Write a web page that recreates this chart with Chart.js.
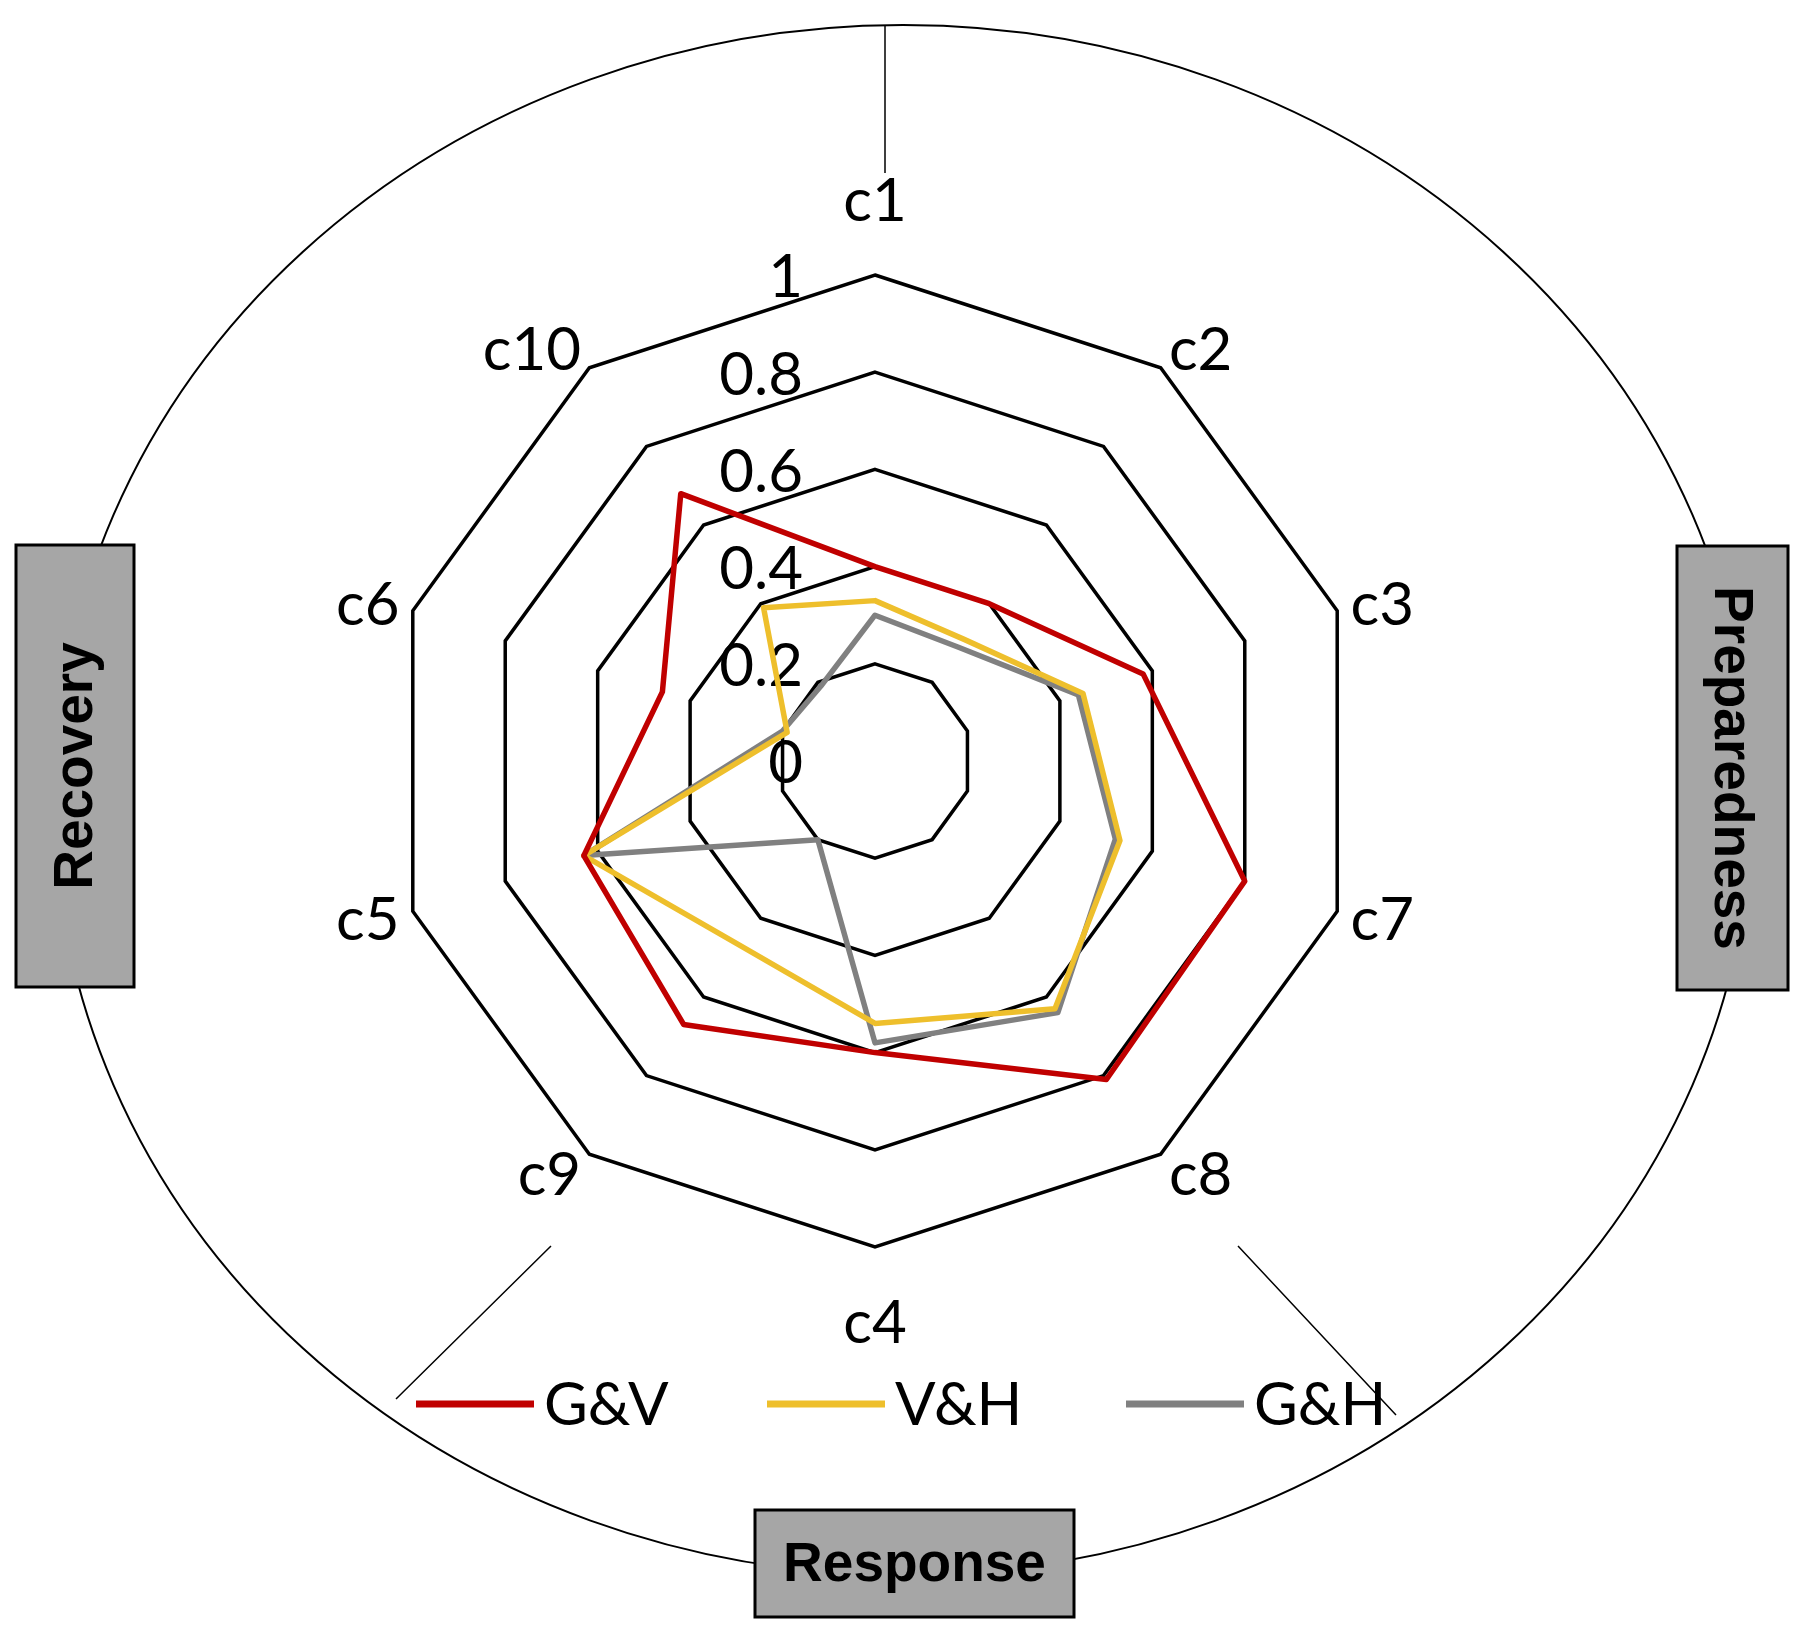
<!DOCTYPE html>
<html lang="en">
<head>
    <meta charset="UTF-8">
    <meta name="viewport" content="width=device-width, initial-scale=1.0">
    <title>Disaster Phase Radar</title>
    <script src="https://cdn.jsdelivr.net/npm/chart.js"></script>
    <style>
        body {
            margin: 0;
            padding: 0;
            background-color: #fff;
        }

        .chart-wrap {
            width: 1801px;
            height: 1635px;
        }
    </style>
</head>
<body>
    <div class="chart-wrap">
        <canvas id="radar-chart" width="1801" height="1635"></canvas>
    </div>

    <script>
        // axes go clockwise from the top
        const axisLabels = ['c1', 'c2', 'c3', 'c7', 'c8', 'c4', 'c9', 'c5', 'c6', 'c10'];
        const gvValues = [0.40, 0.40, 0.58, 0.80, 0.81, 0.60, 0.67, 0.63, 0.46, 0.68];
        const vhValues = [0.33, 0.31, 0.45, 0.53, 0.63, 0.54, 0.47, 0.63, 0.19, 0.39];
        const ghValues = [0.30, 0.29, 0.44, 0.52, 0.64, 0.58, 0.20, 0.63, 0.20, 0.19];
        const seriesNames = ['G&V', 'V&H', 'G&H'];
        const seriesColors = ['#c00000', '#eebf2c', '#808080'];
        const tickValues = [0, 0.2, 0.4, 0.6, 0.8, 1];
        const phaseNames = ['Preparedness', 'Response', 'Recovery'];

        const labelFont = '60px Lato, "Open Sans", sans-serif';
        const boxFont = 'bold 55px "Liberation Sans", Arial, sans-serif';

        function drawBox(ctx, x, y, w, h, text, rotation) {
            ctx.fillStyle = '#a6a6a6';
            ctx.fillRect(x, y, w, h);
            ctx.strokeStyle = '#000';
            ctx.lineWidth = 3;
            ctx.strokeRect(x, y, w, h);
            ctx.save();
            ctx.translate(x + w / 2, y + h / 2);
            ctx.rotate(rotation);
            ctx.font = boxFont;
            ctx.fillStyle = '#000';
            ctx.textAlign = 'center';
            ctx.textBaseline = 'middle';
            ctx.fillText(text, 0, 2);
            ctx.restore();
        }

        const decorPlugin = {
            id: 'decor',
            beforeDraw(chart) {
                const ctx = chart.ctx;
                const s = chart.scales.r;
                const cx = s.xCenter;
                const cy = s.yCenter;
                ctx.save();
                ctx.fillStyle = '#fff';
                ctx.fillRect(0, 0, chart.width, chart.height);

                // outer ellipse and the three phase dividers
                ctx.strokeStyle = '#000';
                ctx.lineWidth = 2;
                ctx.beginPath();
                ctx.ellipse(cx + 28, cy + 39, 849, 775, 0, 0, Math.PI * 2);
                ctx.stroke();

                ctx.lineWidth = 1.5;
                ctx.beginPath();
                ctx.moveTo(cx + 10, cy - 736);
                ctx.lineTo(cx + 10, cy - 588);
                ctx.moveTo(cx - 324, cy + 485);
                ctx.lineTo(cx - 479, cy + 638);
                ctx.moveTo(cx + 363, cy + 485);
                ctx.lineTo(cx + 521, cy + 654);
                ctx.stroke();
                ctx.restore();
            },
            beforeDatasetsDraw(chart) {
                const ctx = chart.ctx;
                const s = chart.scales.r;
                ctx.save();
                ctx.font = labelFont;
                ctx.fillStyle = '#000';

                // value labels left of the c1 axis
                ctx.textAlign = 'right';
                ctx.textBaseline = 'middle';
                tickValues.forEach(function(v) {
                    const d = s.getDistanceFromCenterForValue(v);
                    ctx.fillText(String(v), s.xCenter - 72, s.yCenter - d + 3);
                });

                // category labels
                chart.data.labels.forEach(function(lab, i) {
                    const a = s.getIndexAngle(i);
                    const sn = Math.sin(a);
                    const cs = Math.cos(a);
                    const vertical = Math.abs(sn) < 0.01;
                    const pos = s.getPointPosition(i, s.drawingArea + (vertical ? 45 : 14));
                    ctx.textAlign = vertical ? 'center' : (sn > 0 ? 'left' : 'right');
                    let y = pos.y;
                    if (vertical) {
                        y += (cs > 0 ? -30 : 30) + 2;
                    } else {
                        y += -cs * 10 + 2;
                    }
                    ctx.fillText(lab, pos.x, y);
                });
                ctx.restore();
            },
            afterDraw(chart) {
                const ctx = chart.ctx;
                const s = chart.scales.r;
                const cx = s.xCenter;
                const cy = s.yCenter;
                ctx.save();

                // legend
                const starts = [-459, -108, 251];
                chart.data.datasets.forEach(function(ds, i) {
                    const x0 = cx + starts[i];
                    const y0 = cy + 643;
                    ctx.strokeStyle = ds.borderColor;
                    ctx.lineWidth = 7;
                    ctx.beginPath();
                    ctx.moveTo(x0, y0);
                    ctx.lineTo(x0 + 118, y0);
                    ctx.stroke();
                    ctx.font = labelFont;
                    ctx.fillStyle = '#000';
                    ctx.textAlign = 'left';
                    ctx.textBaseline = 'middle';
                    ctx.fillText(ds.label, x0 + 128, y0 + 2);
                });

                // phase boxes
                drawBox(ctx, cx + 802, cy - 215, 111, 444, phaseNames[0], Math.PI / 2);
                drawBox(ctx, cx - 120, cy + 749, 319, 107, phaseNames[1], 0);
                drawBox(ctx, cx - 859, cy - 216, 118, 442, phaseNames[2], -Math.PI / 2);
                ctx.restore();
            }
        };

        const ctx = document.getElementById('radar-chart').getContext('2d');
        const radarChart = new Chart(ctx, {
            type: 'radar',
            data: {
                labels: axisLabels,
                datasets: [
                    { label: seriesNames[0], data: gvValues, borderColor: seriesColors[0] },
                    { label: seriesNames[1], data: vhValues, borderColor: seriesColors[1] },
                    { label: seriesNames[2], data: ghValues, borderColor: seriesColors[2] }
                ]
            },
            options: {
                responsive: false,
                animation: false,
                layout: {
                    padding: { left: 389, right: 440, top: 275, bottom: 388 }
                },
                plugins: {
                    legend: { display: false },
                    tooltip: { enabled: false }
                },
                elements: {
                    point: { radius: 0 },
                    line: { tension: 0, borderWidth: 5.5, fill: false, borderJoinStyle: 'round' }
                },
                scales: {
                    r: {
                        min: 0,
                        max: 1,
                        ticks: { stepSize: 0.2, display: false },
                        grid: { color: '#000', lineWidth: 3.5 },
                        angleLines: { display: false },
                        pointLabels: { display: false }
                    }
                }
            },
            plugins: [decorPlugin]
        });
    </script>
</body>
</html>
